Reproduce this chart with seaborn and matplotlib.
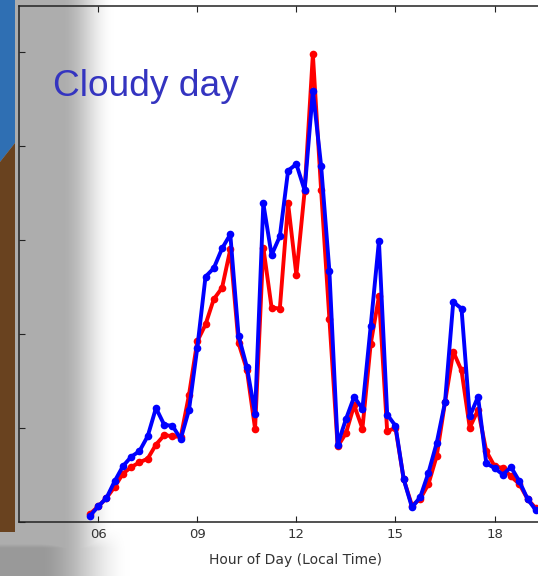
import numpy as np
import pandas as pd
import matplotlib
matplotlib.use("Agg")
import matplotlib.pyplot as plt
from matplotlib.patches import Polygon
import seaborn as sns

# Hour of day (local time), 15-minute samples
hours = [5.75, 6.0, 6.25, 6.5, 6.75, 7.0, 7.25, 7.5, 7.75, 8.0, 8.25, 8.5, 8.75,
         9.0, 9.25, 9.5, 9.75, 10.0, 10.25, 10.5, 10.75, 11.0, 11.25, 11.5, 11.75,
         12.0, 12.25, 12.5, 12.75, 13.0, 13.25, 13.5, 13.75, 14.0, 14.25, 14.5, 14.75,
         15.0, 15.25, 15.5, 15.75, 16.0, 16.25, 16.5, 16.75, 17.0, 17.25, 17.5, 17.75,
         18.0, 18.25, 18.5, 18.75, 19.0, 19.25]

red_series = [0.08, 0.16, 0.25, 0.37, 0.51, 0.58, 0.63, 0.67, 0.82, 0.92, 0.91, 0.90, 1.35,
              1.92, 2.10, 2.37, 2.49, 2.90, 1.90, 1.62, 0.99, 2.92, 2.28, 2.27, 3.39,
              2.63, 3.52, 4.98, 3.53, 2.16, 0.80, 0.94, 1.24, 0.99, 1.89, 2.40, 0.96,
              1.00, 0.45, 0.17, 0.24, 0.40, 0.70, 1.27, 1.81, 1.61, 1.00, 1.19, 0.75,
              0.59, 0.57, 0.48, 0.40, 0.24, 0.14]

blue_series = [0.06, 0.16, 0.25, 0.43, 0.59, 0.69, 0.75, 0.91, 1.21, 1.03, 1.02, 0.88, 1.19,
               1.85, 2.61, 2.70, 2.91, 3.06, 1.98, 1.65, 1.15, 3.39, 2.84, 3.04, 3.74,
               3.81, 3.53, 4.59, 3.79, 2.67, 0.82, 1.09, 1.33, 1.20, 2.08, 2.99, 1.14,
               1.02, 0.45, 0.15, 0.26, 0.52, 0.84, 1.27, 2.34, 2.27, 1.12, 1.33, 0.62,
               0.57, 0.50, 0.58, 0.43, 0.24, 0.12]

tick_hours = [6, 9, 12, 15, 18]
tick_labels = ["06", "09", "12", "15", "18"]
title_text = "Cloudy day"
x_title = "Hour of Day (Local Time)"

df = pd.DataFrame({"hour": hours, "red": red_series, "blue": blue_series})

sns.set_style("ticks")
plt.rcParams["font.family"] = ["DejaVu Sans"]

W, H = 538, 576
fig = plt.figure(figsize=(W / 100, H / 100), dpi=100)
fig.patch.set_facecolor("white")

# Background layer: slide shadow and photo strip on the left
bg = fig.add_axes([0, 0, 1, 1], zorder=0)
bg.set_xlim(0, W)
bg.set_ylim(H, 0)
bg.axis("off")

xs = np.arange(W) + 0.5
ys = np.arange(H) + 0.5
X, Y = np.meshgrid(xs, ys)

def ramp(x, x0, x1):
    t = np.clip((x - x0) / (x1 - x0), 0, 1)
    return 1 - t * t * (3 - 2 * t)

dark = 0.32 * ramp(X, 62, 114)
bottom = np.clip((Y - 528) / 20, 0, 1)
dark = np.maximum(dark, bottom * 0.40 * ramp(X, 40, 130))
shade = 1 - dark
img = np.dstack([shade, shade, shade])
bg.imshow(img, extent=(0, W, H, 0), aspect="auto", interpolation="bilinear")

bg.add_patch(Polygon([(0, 0), (15, 0), (15, 143), (0, 162)], closed=True,
                     facecolor="#2f6fb3", edgecolor="none"))
bg.add_patch(Polygon([(0, 162), (15, 143), (15, 532), (0, 532)], closed=True,
                     facecolor="#69421f", edgecolor="none"))

# Main plot axes (right edge runs past the figure border)
left_px, right_px = 18.9, 560.6
top_px, bottom_px = 5.5, 521.5
ax = fig.add_axes([left_px / W, (H - bottom_px) / H,
                   (right_px - left_px) / W, (bottom_px - top_px) / H], zorder=1)
ax.set_facecolor("none")

sns.lineplot(data=df, x="hour", y="red", ax=ax, color="#ff0000", linewidth=2.8,
             marker="o", markersize=5.5, markeredgecolor="#ff0000",
             markeredgewidth=0, zorder=3)
sns.lineplot(data=df, x="hour", y="blue", ax=ax, color="#0000ff", linewidth=2.8,
             marker="o", markersize=5.5, markeredgecolor="#0000ff",
             markeredgewidth=0, zorder=4)

ax.set_xlim(3.6, 20.0)
ax.set_ylim(0, 5.5)
ax.set_xticks(tick_hours)
ax.set_xticklabels(tick_labels)
ax.set_yticks([0, 1, 2, 3, 4, 5])
ax.tick_params(axis="both", direction="in", length=4.5, width=0.8, color="#222222",
               top=True, right=True, labelleft=False, labelsize=9.5,
               labelcolor="#333333", pad=5)
for side in ["left", "bottom", "top", "right"]:
    ax.spines[side].set_color("#222222")
    ax.spines[side].set_linewidth(1.1)

ax.set_ylabel("")
ax.set_xlabel(x_title, fontsize=10, color="#333333")
ax.xaxis.label.set_va("center")
ax.xaxis.set_label_coords((295 - left_px) / (right_px - left_px),
                          -(560 - bottom_px) / (bottom_px - top_px))

fig.text(53 / W, (H - 95.5) / H, title_text, fontsize=26.7,
         family=["Liberation Sans", "DejaVu Sans"], color="#3434c0",
         ha="left", va="baseline", zorder=5)

fig.savefig("out.png", dpi=100)
